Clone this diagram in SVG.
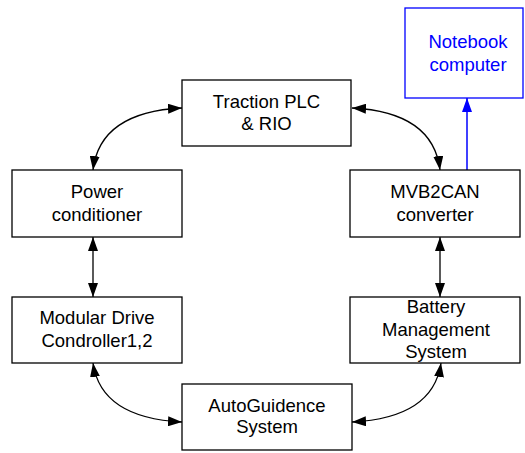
<svg xmlns="http://www.w3.org/2000/svg" width="525" height="453" viewBox="0 0 525 453">
  <style>
    .box { fill: #ffffff; stroke: #000000; stroke-width: 1.3; }
    .pc { fill: #ffffff; stroke: #0000ff; stroke-width: 1.3; }
    .lbl { font-family: "Liberation Sans", Arial, sans-serif; font-size: 18.5px; fill: #000000; text-anchor: middle; }
    .lbl-blue { fill: #0000ff; }
    .link { fill: none; stroke: #000000; stroke-width: 1.3; }
    .link-blue { fill: none; stroke: #0000ff; stroke-width: 1.5; }
  </style>
  <defs>
    <marker id="ah" markerUnits="userSpaceOnUse" markerWidth="14" markerHeight="10" refX="14" refY="5" orient="auto-start-reverse" viewBox="0 0 14 10">
      <path d="M0,0 L14,5 L0,10 z" fill="#000000"/>
    </marker>
    <marker id="ah-blue" markerUnits="userSpaceOnUse" markerWidth="14" markerHeight="10" refX="14" refY="5" orient="auto" viewBox="0 0 14 10">
      <path d="M0,0 L14,5 L0,10 z" fill="#0000ff"/>
    </marker>
  </defs>

  <rect width="525" height="453" fill="#ffffff"/>

  <!-- connectors -->
  <g id="connectors">
    <path class="link" d="M93,170 Q100,112 182,108" marker-start="url(#ah)" marker-end="url(#ah)"/>
    <path class="link" d="M352,108 Q433,112 440,170" marker-start="url(#ah)" marker-end="url(#ah)"/>
    <path class="link" d="M93,237 L93,297" marker-start="url(#ah)" marker-end="url(#ah)"/>
    <path class="link" d="M440,237 L440,297" marker-start="url(#ah)" marker-end="url(#ah)"/>
    <path class="link" d="M93,363 Q101,418 182,422" marker-start="url(#ah)" marker-end="url(#ah)"/>
    <path class="link" d="M352,422 Q433,418 441,363" marker-start="url(#ah)" marker-end="url(#ah)"/>
    <path class="link-blue" d="M467,170 L467,98" marker-end="url(#ah-blue)"/>
  </g>

  <!-- nodes -->
  <g id="notebook">
    <rect class="pc" x="405" y="8" width="118" height="90"/>
    <text class="lbl lbl-blue" x="468" y="48">Notebook</text>
    <text class="lbl lbl-blue" x="468" y="70.5">computer</text>
  </g>

  <g id="traction-plc">
    <rect class="box" x="182" y="80" width="169" height="66"/>
    <text class="lbl" x="266.5" y="107.7">Traction PLC</text>
    <text class="lbl" x="266.5" y="130">&amp; RIO</text>
  </g>

  <g id="power-conditioner">
    <rect class="box" x="12" y="170" width="170" height="67"/>
    <text class="lbl" x="97" y="198.3">Power</text>
    <text class="lbl" x="97" y="220.7">conditioner</text>
  </g>

  <g id="mvb2can">
    <rect class="box" x="350" y="170" width="170" height="67"/>
    <text class="lbl" x="435" y="198.3">MVB2CAN</text>
    <text class="lbl" x="435" y="220.7">converter</text>
  </g>

  <g id="modular-drive">
    <rect class="box" x="12" y="297" width="170" height="66"/>
    <text class="lbl" x="97" y="324">Modular Drive</text>
    <text class="lbl" x="97" y="346.7">Condroller1,2</text>
  </g>

  <g id="battery-management">
    <rect class="box" x="350" y="297" width="170" height="66"/>
    <text class="lbl" x="436" y="313.3">Battery</text>
    <text class="lbl" x="436" y="336">Management</text>
    <text class="lbl" x="436" y="358">System</text>
  </g>

  <g id="autoguidence">
    <rect class="box" x="182" y="384" width="170" height="66"/>
    <text class="lbl" x="267" y="411.7">AutoGuidence</text>
    <text class="lbl" x="267" y="433.3">System</text>
  </g>
</svg>
